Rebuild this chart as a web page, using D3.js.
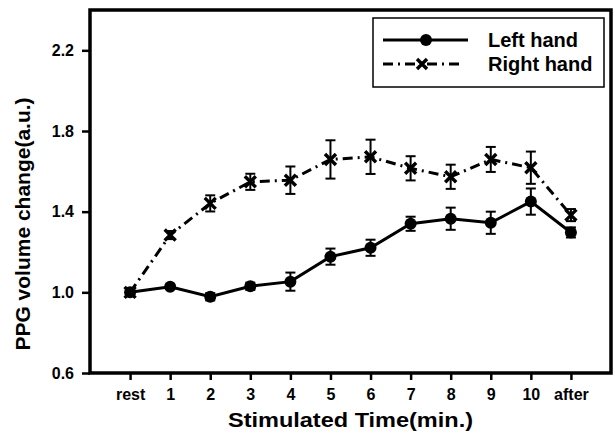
<!DOCTYPE html>
<html><head><meta charset="utf-8">
<script src="https://cdn.jsdelivr.net/npm/d3@7/dist/d3.min.js"></script>
<style>body{margin:0;background:#fff;} svg{display:block;font-family:"Liberation Sans",Arial,sans-serif;font-weight:bold;}</style>
</head><body>
<svg id="c" width="615" height="445"></svg>
<script>
const categories = ["rest","1","2","3","4","5","6","7","8","9","10","after"];
const leftHand    = [1.00, 1.028, 0.978, 1.030, 1.053, 1.177, 1.221, 1.340, 1.365, 1.345, 1.450, 1.297];
const leftHandErr = [0.010, 0.010, 0.018, 0.018, 0.045, 0.040, 0.040, 0.035, 0.055, 0.055, 0.065, 0.025];
const rightHand    = [1.00, 1.284, 1.441, 1.548, 1.556, 1.659, 1.672, 1.615, 1.573, 1.659, 1.618, 1.383];
const rightHandErr = [0.010, 0.020, 0.040, 0.040, 0.068, 0.095, 0.085, 0.060, 0.060, 0.062, 0.080, 0.030];
const yTicks = [0.6, 1.0, 1.4, 1.8, 2.2];
const yDomain = [0.6, 2.4];
const legendLabels = ["Left hand", "Right hand"];
const xTitle = "Stimulated Time(min.)";
const yTitle = "PPG volume change(a.u.)";

const svg = d3.select("#c");
const L = 90, R = 611, T = 10, B = 373;
const x = d3.scalePoint().domain(categories).range([L, R]).padding(1);
const y = d3.scaleLinear().domain(yDomain).range([B, T]);

// axes
const yAxis = svg.append("g").attr("transform", `translate(${L},0)`)
  .call(d3.axisLeft(y).tickValues(yTicks).tickFormat(d3.format(".1f")).tickSize(8).tickPadding(8));
const xAxis = svg.append("g").attr("transform", `translate(0,${B})`)
  .call(d3.axisBottom(x).tickSize(7).tickPadding(9));
[yAxis, xAxis].forEach(a => {
  a.select(".domain").remove();
  a.selectAll("line").attr("stroke", "#000").attr("stroke-width", 2.5);
  a.selectAll("text").attr("fill", "#000").style("font-size", "16px").style("font-weight", "bold");
});
// frame
svg.append("rect").attr("x", L).attr("y", T).attr("width", R - L).attr("height", B - T)
  .attr("fill", "none").attr("stroke", "#000").attr("stroke-width", 3.5);

// titles
svg.append("text").attr("x", (L + R) / 2).attr("y", 427).attr("text-anchor", "middle")
  .style("font-size", "21px").attr("textLength", 245).attr("lengthAdjust", "spacingAndGlyphs").text(xTitle);
svg.append("text").attr("transform", `translate(30,224) rotate(-90)`).attr("text-anchor", "middle")
  .style("font-size", "21px").text(yTitle);

const line = d3.line().x((d, i) => x(categories[i])).y(d => y(d));
const dashDot = "10,5,2,5";

function errorBars(vals, errs) {
  const g = svg.append("g").attr("stroke", "#000").attr("stroke-width", 2);
  vals.forEach((v, i) => {
    const cx = x(categories[i]);
    g.append("line").attr("x1", cx).attr("x2", cx).attr("y1", y(v - errs[i])).attr("y2", y(v + errs[i]));
    [v - errs[i], v + errs[i]].forEach(e =>
      g.append("line").attr("x1", cx - 5).attr("x2", cx + 5).attr("y1", y(e)).attr("y2", y(e)));
  });
}

function xMark(g, cx, cy, s) {
  g.append("path").attr("d", `M${cx - s},${cy - s}L${cx + s},${cy + s}M${cx - s},${cy + s}L${cx + s},${cy - s}`)
    .attr("stroke", "#000").attr("stroke-width", 3.4).attr("fill", "none");
}

// right hand
errorBars(rightHand, rightHandErr);
svg.append("path").datum(rightHand).attr("d", line).attr("fill", "none")
  .attr("stroke", "#000").attr("stroke-width", 3).attr("stroke-dasharray", dashDot);
const rg = svg.append("g");
rightHand.forEach((v, i) => xMark(rg, x(categories[i]), y(v), 5.5));

// left hand
errorBars(leftHand, leftHandErr);
svg.append("path").datum(leftHand).attr("d", line).attr("fill", "none")
  .attr("stroke", "#000").attr("stroke-width", 3);
svg.append("g").selectAll("circle").data(leftHand).join("circle")
  .attr("cx", (d, i) => x(categories[i])).attr("cy", d => y(d)).attr("r", 6).attr("fill", "#000");

// legend
const lg = svg.append("g");
lg.append("rect").attr("x", 373).attr("y", 18).attr("width", 231).attr("height", 69)
  .attr("fill", "#fff").attr("stroke", "#000").attr("stroke-width", 1.5);
const rows = [40, 64];
lg.append("line").attr("x1", 383).attr("x2", 468).attr("y1", rows[0]).attr("y2", rows[0])
  .attr("stroke", "#000").attr("stroke-width", 3);
lg.append("circle").attr("cx", 426).attr("cy", rows[0]).attr("r", 6).attr("fill", "#000");
lg.append("line").attr("x1", 383).attr("x2", 460).attr("y1", rows[1]).attr("y2", rows[1])
  .attr("stroke", "#000").attr("stroke-width", 3).attr("stroke-dasharray", dashDot);
xMark(lg, 422, rows[1], 5);
legendLabels.forEach((t, i) => lg.append("text").attr("x", 488).attr("y", rows[i]).attr("dy", "0.36em")
  .style("font-size", "20px").text(t));
</script>
</body></html>
